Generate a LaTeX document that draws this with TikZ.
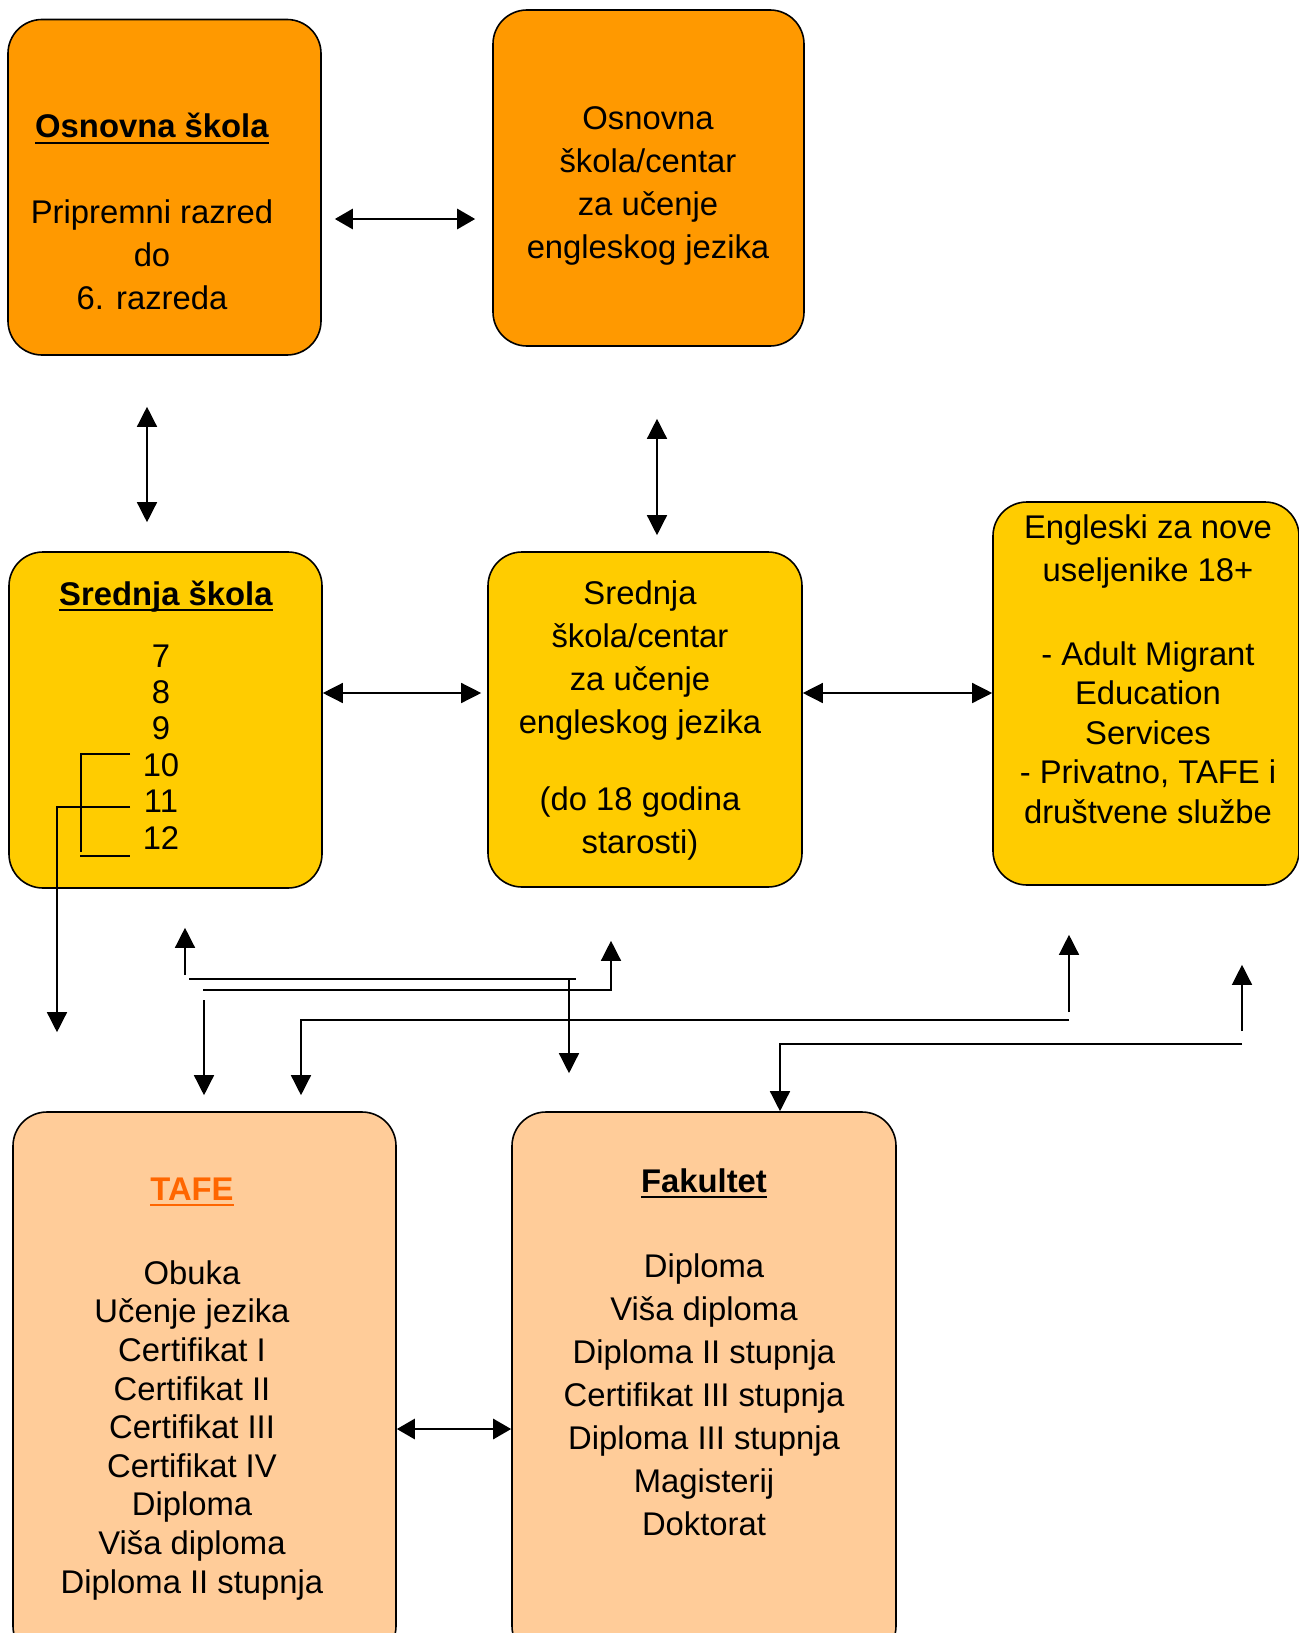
\documentclass[tikz,border=0pt]{standalone}
\usepackage{fontspec}
\setmainfont{Liberation Sans}
\usetikzlibrary{arrows.meta}
\definecolor{orangeTop}{HTML}{FF9900}
\definecolor{yellowMid}{HTML}{FFCC00}
\definecolor{peachLow}{HTML}{FFCC99}
\definecolor{tafeText}{HTML}{FF6600}
\newcommand\ulined[1]{\setbox0\hbox{#1}\rlap{\rule[-3pt]{\wd0}{0.9pt}}\box0}
\tikzset{
	skbox/.style={draw=black, line width=0.8pt, rounded corners=17pt, inner sep=0pt},
	sktext/.style={align=center, anchor=base, inner sep=0pt, font=\fontsize{16.4}{21.5}\selectfont},
	onetip/.style={line width=0.7pt, -{Triangle[length=10pt,width=10pt]}},
	twotip/.style={line width=0.7pt, {Triangle[length=10pt,width=10pt]}-{Triangle[length=10pt,width=10pt]}},
	fattip/.style={line width=1.4pt, {Triangle[length=9pt,width=10pt]}-{Triangle[length=9pt,width=10pt]}},
	plain/.style={line width=0.7pt}
}

\begin{document}
\begin{tikzpicture}[x=0.5pt, y=-0.5pt]
			%%%%% START %%%%%
			\useasboundingbox (0,0) rectangle (1299,1633);
			\clip (0,0) rectangle (1299,1633);
			
			\node[skbox, fill=orangeTop, minimum width=156.5pt, minimum height=167.75pt] (osnovna) at (164.5,187.25) {};
			\node[skbox, fill=orangeTop, minimum width=155.5pt, minimum height=168pt] (osnovnaCentar) at (648.5,178) {};
			\node[skbox, fill=yellowMid, minimum width=156.5pt, minimum height=168pt] (srednja) at (165.5,720) {};
			\node[skbox, fill=yellowMid, minimum width=157pt, minimum height=167.5pt] (srednjaCentar) at (645,719.5) {};
			\node[skbox, fill=yellowMid, minimum width=153pt, minimum height=191.5pt] (odrasli) at (1146,693.5) {};
			\node[skbox, fill=peachLow, minimum width=191.5pt, minimum height=274pt] (tafe) at (204.5,1386) {};
			\node[skbox, fill=peachLow, minimum width=192pt, minimum height=274pt] (fakultet) at (704,1386) {};
			
			% text nodes sit on the baseline of their last line
			\node[sktext] (osnovnaT) at (152,309.5) {\ulined{\textbf{Osnovna škola}}\\[21.5pt]Pripremni razred\\do\\6. razreda};
			\node[sktext] (osnovnaCentarT) at (648,258) {Osnovna\\škola/centar\\za učenje\\engleskog jezika};
			\node[sktext] (srednjaT) at (166,605) {\ulined{\textbf{Srednja škola}}};
			\node[sktext, font=\fontsize{16.4}{18.2}\selectfont] (razrediT) at (161,849) {7\\8\\9\\10\\11\\12};
			\node[sktext] (srednjaCentarT) at (640,853) {Srednja\\škola/centar\\za učenje\\engleskog jezika\\[17pt](do 18 godina\\starosti)};
			\node[sktext, font=\fontsize{16.4}{19.7}\selectfont] (odrasliT) at (1148,823) {Engleski za nove\\[1.8pt]useljenike 18+\\[22.3pt]- Adult Migrant\\Education\\Services\\- Privatno, TAFE i\\društvene službe};
			\node[sktext, font=\fontsize{16.4}{19.3}\selectfont] (tafeT) at (192,1593) {\textcolor{tafeText}{\ulined{\textbf{TAFE}}}\\[22.7pt]Obuka\\Učenje jezika\\Certifikat I\\Certifikat II\\Certifikat III\\Certifikat IV\\Diploma\\Viša diploma\\Diploma II stupnja};
			\node[sktext] (fakultetT) at (704,1535) {\ulined{\textbf{Fakultet}}\\[21pt]Diploma\\Viša diploma\\Diploma II stupnja\\Certifikat III stupnja\\Diploma III stupnja\\Magisterij\\Doktorat};
			
			\draw[fattip, shorten <=6.5pt, shorten >=8.5pt] (osnovna.east |- 0,219) -- (osnovnaCentar.west |- 0,219);
			\draw[twotip, shorten <=25.5pt, shorten >=14.5pt] (osnovna.south -| 147,0) -- (srednja.north -| 147,0);
			\draw[twotip, shorten <=36pt, shorten >=8pt] (osnovnaCentar.south -| 657,0) -- (srednjaCentar.north -| 657,0);
			\draw[twotip, shorten >=3pt] (srednja.east |- 0,693) -- (srednjaCentar.west |- 0,693);
			\draw[twotip] (srednjaCentar.east |- 0,693) -- (odrasli.west |- 0,693);
			\draw[fattip] (tafe.east |- 0,1429) -- (fakultet.west |- 0,1429);
			
			\draw[plain] (130,754) -- (81,754) -- (81,852);
			\draw[plain] (80,856) -- (130,856);
			\draw[onetip, shorten >=39.5pt] (130,807) -- (57,807) -- (tafe.north -| 57,0);
			
			\draw[onetip, shorten >=19.5pt] (185,975) -- (srednja.south -| 185,0);
			\draw[plain] (189,979) -- (576,979);
			\draw[onetip, shorten >=19pt] (569,979) -- (fakultet.north -| 569,0);
			
			\draw[onetip, shorten >=26.5pt] (203,990) -- (611,990) -- (srednjaCentar.south -| 611,0);
			\draw[onetip, shorten >=8pt] (204,1000) -- (tafe.north -| 204,0);
			
			\draw[onetip, shorten >=24.5pt] (1069,1012) -- (odrasli.south -| 1069,0);
			\draw[onetip, shorten >=8pt] (1069,1020) -- (301,1020) -- (tafe.north -| 301,0);
			
			\draw[onetip, shorten >=39.5pt] (1242,1031) -- (odrasli.south -| 1242,0);
			\draw[onetip] (1242,1044) -- (780,1044) -- (fakultet.north -| 780,0);
			%%%%% END %%%%%
\end{tikzpicture}
\end{document}
